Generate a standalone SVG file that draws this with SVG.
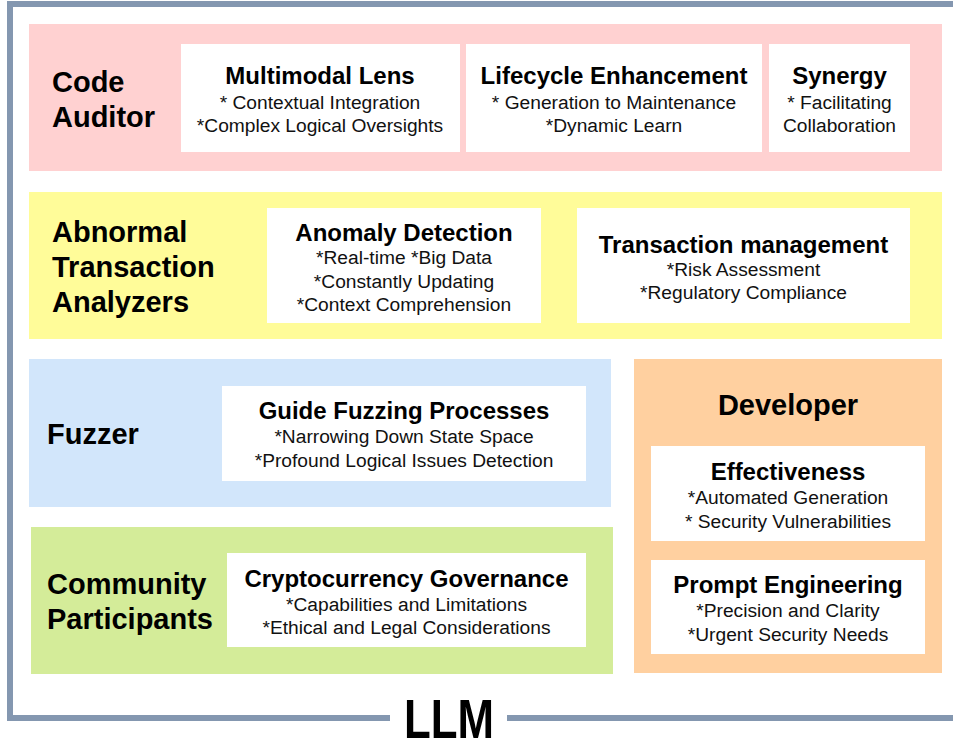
<svg xmlns="http://www.w3.org/2000/svg" width="953" height="743" viewBox="0 0 953 743">
<style>
.frame{stroke:#8497B0;stroke-width:6;fill:none}
.box{fill:#FFFFFF}
.lbl{font-family:"Liberation Sans",Arial,sans-serif;font-weight:bold;font-size:29px;fill:#000}
.ttl{font-family:"Liberation Sans",Arial,sans-serif;font-weight:bold;font-size:24px;fill:#000;text-anchor:middle}
.bd{font-family:"Liberation Sans",Arial,sans-serif;font-size:19.2px;fill:#111;text-anchor:middle}
</style>
<rect width="953" height="743" fill="#FFFFFF"/>
<g id="frame">
<path class="frame" d="M953,4 H10 V718 H390"/>
<path class="frame" d="M507,718 H953"/>
<text x="449" y="738" font-family="'Liberation Sans',Arial,sans-serif" font-weight="bold" font-size="56" text-anchor="middle" textLength="90" lengthAdjust="spacingAndGlyphs">LLM</text>
</g>
<g id="code-auditor">
<rect x="29" y="24" width="913" height="147" fill="#FFD1D1"/>
<text class="lbl" x="52" y="92">Code</text>
<text class="lbl" x="52" y="127">Auditor</text>
</g>
<g id="multimodal-lens">
<rect class="box" x="181" y="44" width="279" height="108"/>
<text class="ttl" x="320" y="83.5">Multimodal Lens</text>
<text class="bd" x="320" y="109">* Contextual Integration</text>
<text class="bd" x="320" y="132">*Complex Logical Oversights</text>
</g>
<g id="lifecycle-enhancement">
<rect class="box" x="466" y="44" width="296" height="108"/>
<text class="ttl" x="614" y="83.5">Lifecycle Enhancement</text>
<text class="bd" x="614" y="109">* Generation to Maintenance</text>
<text class="bd" x="614" y="132">*Dynamic Learn</text>
</g>
<g id="synergy">
<rect class="box" x="769" y="44" width="141" height="108"/>
<text class="ttl" x="839.5" y="83.5">Synergy</text>
<text class="bd" x="839.5" y="109">* Facilitating</text>
<text class="bd" x="839.5" y="132">Collaboration</text>
</g>
<g id="abnormal-transaction-analyzers">
<rect x="29" y="192" width="913" height="147" fill="#FFFC99"/>
<text class="lbl" x="52" y="242">Abnormal</text>
<text class="lbl" x="52" y="277">Transaction</text>
<text class="lbl" x="52" y="312">Analyzers</text>
</g>
<g id="anomaly-detection">
<rect class="box" x="267" y="208" width="274" height="115"/>
<text class="ttl" x="404" y="240.5">Anomaly Detection</text>
<text class="bd" x="404" y="264">*Real-time *Big Data</text>
<text class="bd" x="404" y="288">*Constantly Updating</text>
<text class="bd" x="404" y="311">*Context Comprehension</text>
</g>
<g id="transaction-management">
<rect class="box" x="577" y="208" width="333" height="115"/>
<text class="ttl" x="743.5" y="252.5">Transaction management</text>
<text class="bd" x="743.5" y="276">*Risk Assessment</text>
<text class="bd" x="743.5" y="299">*Regulatory Compliance</text>
</g>
<g id="fuzzer">
<rect x="29" y="359" width="582" height="148" fill="#D2E6FB"/>
<text class="lbl" x="47" y="444">Fuzzer</text>
</g>
<g id="guide-fuzzing-processes">
<rect class="box" x="222" y="386" width="364" height="95"/>
<text class="ttl" x="404" y="418.5">Guide Fuzzing Processes</text>
<text class="bd" x="404" y="443">*Narrowing Down State Space</text>
<text class="bd" x="404" y="467">*Profound Logical Issues Detection</text>
</g>
<g id="community-participants">
<rect x="31" y="527" width="582" height="147" fill="#D4EC99"/>
<text class="lbl" x="47" y="594">Community</text>
<text class="lbl" x="47" y="629">Participants</text>
</g>
<g id="cryptocurrency-governance">
<rect class="box" x="227" y="553" width="359" height="94"/>
<text class="ttl" x="406.5" y="586.5">Cryptocurrency Governance</text>
<text class="bd" x="406.5" y="611">*Capabilities and Limitations</text>
<text class="bd" x="406.5" y="634">*Ethical and Legal Considerations</text>
</g>
<g id="developer">
<rect x="634" y="359" width="308" height="314" fill="#FFD0A0"/>
<text class="lbl" x="788" y="415" text-anchor="middle">Developer</text>
</g>
<g id="effectiveness">
<rect class="box" x="651" y="446" width="274" height="95"/>
<text class="ttl" x="788" y="479.5">Effectiveness</text>
<text class="bd" x="788" y="504">*Automated Generation</text>
<text class="bd" x="788" y="528">* Security Vulnerabilities</text>
</g>
<g id="prompt-engineering">
<rect class="box" x="651" y="560" width="274" height="94"/>
<text class="ttl" x="788" y="592.5">Prompt Engineering</text>
<text class="bd" x="788" y="617">*Precision and Clarity</text>
<text class="bd" x="788" y="641">*Urgent Security Needs</text>
</g>
<g id="connectors"></g>
</svg>
